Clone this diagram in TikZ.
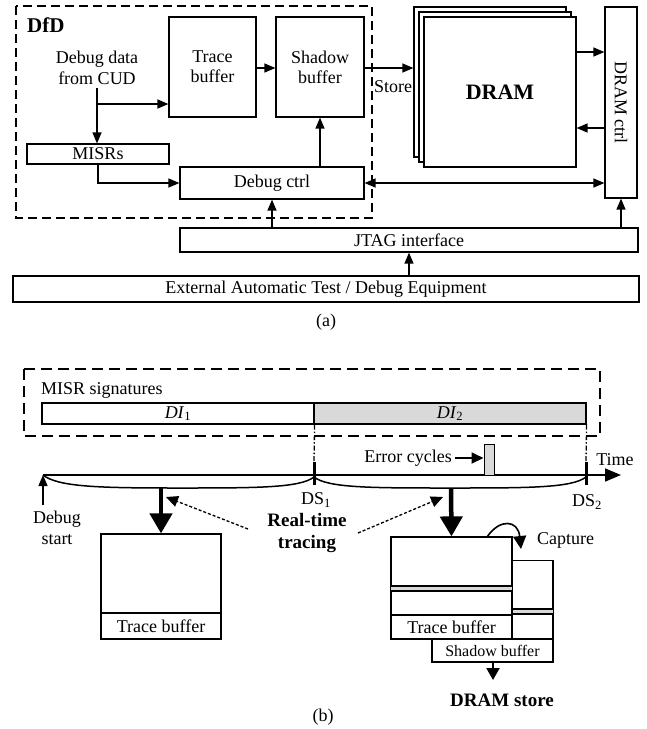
\documentclass[tikz,border=0pt]{standalone}
\usepackage{fontspec}
\setmainfont{Liberation Serif}
\usetikzlibrary{arrows.meta,calc}
\tikzset{
  box/.style={draw, line width=1.2pt, inner sep=0pt, fill=white, align=center},
  arr/.style={-{Triangle[length=11pt,width=9pt]}, line width=1.3pt},
  darr/.style={{Triangle[length=11pt,width=9pt]}-{Triangle[length=11pt,width=9pt]}, line width=1.3pt},
  bigarr/.style={-{Triangle[length=20pt,width=22pt]}, line width=4.5pt},
  dotarr/.style={-{Triangle[length=12pt,width=11pt]}, line width=1.3pt, dash pattern=on 3pt off 2pt},
  dfdbox/.style={line width=2pt, dash pattern=on 9pt off 5pt},
  misrbox/.style={line width=1.5pt, dash pattern=on 11pt off 6pt},
  dashdot/.style={line width=1.3pt, dash pattern=on 5pt off 2pt on 1.5pt off 2pt},
  txt/.style={inner sep=0pt, align=center},
}
\definecolor{lgray}{RGB}{217,217,217}
\begin{document}
\begin{tikzpicture}[x=1pt,y=-1pt, font=\fontsize{18}{21}\selectfont]
\useasboundingbox (0,0) rectangle (646,729);
% ---------------- (a) ----------------
\draw[dfdbox] (16,6) rectangle (372,218);
\node[txt, anchor=west, font=\fontsize{21}{22}\selectfont\bfseries] (dfd) at (27,25) {DfD};
\node[box, minimum width=87pt, minimum height=100pt] (trace) at (212.5,67) {Trace\\[-1pt]buffer};
\node[box, minimum width=88pt, minimum height=100pt] (shadow) at (320,67) {Shadow\\[-1pt]buffer};
\node[txt] (dd) at (97,68) {Debug data\\from CUD};
\node[box, minimum width=142pt, minimum height=20pt] (misrs) at (98,154) {MISRs};
\node[box, minimum width=184pt, minimum height=32pt] (dbg) at (272,183) {Debug ctrl};
% DRAM stack
\node[box, minimum width=152pt, minimum height=150pt] (dram3) at (490,82) {};
\node[box, minimum width=152pt, minimum height=150pt] (dram2) at (495,87) {};
\node[box, minimum width=152pt, minimum height=150pt, font=\fontsize{22}{24}\selectfont\bfseries] (dram) at (500,92) {DRAM};
\node[box, minimum width=32pt, minimum height=191pt] (dctrl) at (621,102.5) {};
\node[txt, rotate=-90] (dctrltxt) at (dctrl.center) {DRAM ctrl};
\node[box, minimum width=458pt, minimum height=24pt] (jtag) at (409,240) {JTAG interface};
\node[box, minimum width=626pt, minimum height=26pt] (ext) at (326,289) {External Automatic Test / Debug Equipment};
\node[txt] (capa) at (326,322) {(a)};
% connectors (a)
\draw[arr] (trace.east |- 0,68) -- (shadow.west |- 0,68);
\coordinate (ddtop) at (97,88);
\coordinate (branch) at (97,104);
\draw[arr] (ddtop) -- (ddtop |- misrs.north);
\draw[arr] (branch) -- (trace.west |- branch);
\draw[arr] (misrs.south) |- (dbg.west);
\draw[arr] (dbg.north -| shadow.south) -- (shadow.south);
\draw[arr] (shadow.east |- 0,68) -- (dram3.west |- 0,68);
\node[txt] (store) at (393,87) {Store};
\draw[arr] (dram.east |- 0,52) -- (dctrl.west |- 0,52);
\draw[arr] (dctrl.west |- 0,128) -- (dram.east |- 0,128);
\draw[darr] (dbg.east) -- (dctrl.west |- dbg.east);
\draw[arr] (jtag.north -| dbg.south) -- (dbg.south);
\draw[arr] (jtag.north -| dctrl.south) -- (dctrl.south);
\draw[arr] (ext.north -| jtag.south) -- (jtag.south);
% ---------------- (b) ----------------
\draw[misrbox] (24,369) rectangle (600,436);
\node[txt, anchor=west] (misrsig) at (41,390) {MISR signatures};
\node[box, minimum width=272pt, minimum height=21pt] (di1) at (178,413.5) {\textit{DI}\textsubscript{1}};
\node[box, fill=lgray, minimum width=272pt, minimum height=21pt] (di2) at (450,413.5) {\textit{DI}\textsubscript{2}};
% timeline
\coordinate (tstart) at (43,475);
\coordinate (tend) at (621,475);
\draw[line width=1.6pt, -{Triangle[length=16pt,width=13pt]}] (tstart) -- (tend);
\node[txt] (time) at (615,460) {Time};
\coordinate (ds1a) at (314,462); \coordinate (ds1b) at (314,485);
\coordinate (ds2a) at (586,462); \coordinate (ds2b) at (586,485);
\draw[dashdot] (di1.south east) -- (ds1a);
\draw[dashdot] (di2.south east) -- (ds2a);
\draw[line width=3pt] (ds1a) -- (ds1b);
\draw[line width=3pt] (ds2a) -- (ds2b);
\draw[line width=1.5pt] (tstart) .. controls (58,487) and (100,488) .. (178,488) .. controls (256,488) and (300,488) .. (314,477);
\draw[line width=1.5pt] (314,477) .. controls (328,488) and (372,488) .. (450,488) .. controls (528,488) and (572,488) .. (586,477);
\node[txt] (ds1) at (316,500) {DS\textsubscript{1}};
\node[txt] (ds2) at (587,502) {DS\textsubscript{2}};
% debug start
\node[txt] (dstart) at (57,528) {Debug\\start};
\draw[arr] (43,505) -- (tstart);
% error cycles
\node[fill=lgray, draw, line width=1pt, minimum width=10pt, minimum height=31pt, inner sep=0pt] (err) at (489,459.5) {};
\node[txt, anchor=east] (errtxt) at (452,458) {Error cycles};
\draw[line width=1.8pt, -{Triangle[length=12pt,width=11pt]}] (errtxt.east) ++(3,0) -- (err.west |- errtxt.east);
% left trace buffer
\node[box, minimum width=120pt, minimum height=79pt] (tb1) at (161,573.5) {};
\node[box, minimum width=120pt, minimum height=26pt] (tb1l) at (161,626) {Trace buffer};
\draw[bigarr] (161,488) -- (tb1.north);
% right buffers
\node[box, minimum width=41pt, minimum height=79pt] (sb) at (532.5,600) {};
\fill[lgray] (513,609) rectangle (553,614);
\draw[line width=1.1pt] (513,609) -- (553,609) (513,614) -- (553,614);
\node[box, minimum width=121pt, minimum height=78pt] (tb2) at (451.5,576) {};
\fill[lgray] (391,586) rectangle (512,591);
\draw[line width=1.1pt] (391,586) -- (512,586) (391,591) -- (512,591);
\node[box, minimum width=121pt, minimum height=24pt] (tb2l) at (451.5,627) {Trace buffer};
\node[box, minimum width=121pt, minimum height=23pt, font=\fontsize{16}{18}\selectfont] (sbl) at (492.5,650.5) {Shadow buffer};
\draw[bigarr] (451,488) -- (tb2.north);
\node[txt, font=\fontsize{19}{21}\selectfont\bfseries] (dstore) at (502,700) {DRAM store};
\draw[line width=2pt, -{Triangle[length=12pt,width=13pt]}] (sbl.south -| 493,0) -- (493,680);
% capture
\coordinate (capstart) at (487,537);
\draw[line width=1.6pt, -{Triangle[length=13pt,width=13pt]}] (capstart) .. controls (500,518) and (518,520) .. (521,549);
\node[txt, anchor=west] (capture) at (537,540) {Capture};
% real-time tracing
\node[txt, font=\fontsize{19}{22}\selectfont\bfseries] (rtt) at (307,533) {Real-time\\tracing};
\draw[dotarr] (248,529) -- (166,497);
\draw[dotarr] (358,533) -- (443,497);
\node[txt] (capb) at (323,717) {(b)};
\end{tikzpicture}
\end{document}
